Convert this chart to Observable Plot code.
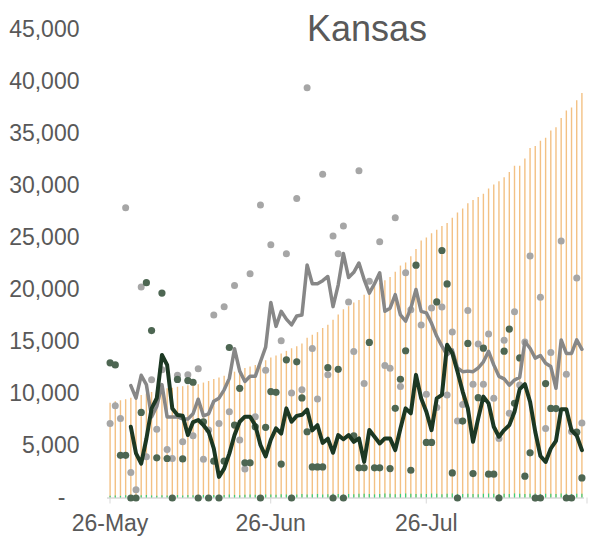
<!DOCTYPE html>
<html>
<head>
<meta charset="utf-8">
<script src="https://cdn.jsdelivr.net/npm/d3@7"></script>
<script src="https://cdn.jsdelivr.net/npm/@observablehq/plot@0.6"></script>
<style>
  html, body { margin: 0; padding: 0; background: #fff; }
  #chart { width: 592px; height: 536px; }
</style>
</head>
<body>
<div id="chart"></div>
<script>
const TITLE = "Kansas";
const START = [2020, 4, 26]; // 26-May-2020, one entry per day below
const X_TICKS = ["2020-05-26", "2020-06-26", "2020-07-26", "2020-08-26"];
const Y_TICKS = [0, 5000, 10000, 15000, 20000, 25000, 30000, 35000, 40000, 45000];

// cumulative (orange bars)
const CUMULATIVE = [9100, 9250, 9350, 9450, 9600, 9700, 9850, 10000, 10150, 10300,
  10400, 10500, 10550, 10650, 10700, 10800, 10850, 10900, 11050, 11200,
  11400, 11550, 11700, 11900, 12100, 12300, 12450, 12600, 12750, 13000,
  13200, 13450, 13650, 13850, 14100, 14350, 14550, 14800, 15350, 15650,
  15900, 16300, 16600, 17100, 17600, 18100, 18400, 18750, 19000, 19500,
  20050, 20400, 20650, 20900, 21200, 21700, 22300, 22600, 23200, 23900,
  24700, 25000, 25400, 25750, 26100, 26400, 26900, 27400, 27800, 28300,
  28600, 28900, 29200, 29700, 30100, 30400, 30800, 31300, 31900, 31900,
  32600, 33600, 33800, 34300, 34600, 35300, 35600, 36500, 37200, 37500,
  38200, 38900];

// small daily values (green ticks at the base)
const DAILY_NEW = [180, 200, 160, 220, 190, 170, 210, 230, 200, 180,
  210, 190, 220, 240, 200, 230, 210, 190, 250, 220,
  240, 260, 230, 280, 250, 220, 260, 300, 270, 240,
  280, 300, 260, 320, 290, 270, 300, 330, 280, 310,
  340, 300, 320, 360, 330, 290, 340, 310, 350, 370,
  330, 300, 340, 380, 360, 320, 350, 390, 360, 330,
  370, 340, 380, 350, 320, 360, 390, 350, 330, 370,
  340, 310, 350, 380, 360, 330, 370, 340, 390, 350,
  330, 360, 380, 340, 370, 350, 330, 390, 360, 340,
  370, 350];

// grey dots
const GREY_DAILY = [7170, 8880, 7650, 27900, 2440, 800, 20300, 3960, 11360, 6600,
  12320, 4660, 3800, 11800, 5400, 11840, 5980, 12420, 3730, 6530,
  17600, 7170, 18400, 8300, 20430, 5570, 2800, 21570, 7820, 28170,
  12280, 24350, null, 15120, 23480, 10100, 28810, 10400, 39440, 14380,
  9520, 31140, 11850, 25190, 23480, 26150, 18850, 14090, 31460, 11000,
  20840, null, 24640, 12740, 12480, 26950, 10710, 21650, 18110, null,
  16630, 9970, 18270, 8690, 18370, 9910, 15950, 7400, 9000, 18030,
  10930, 14800, 10930, 15760, 9580, 5720, 15170, 8140, 17910, 10870,
  15000, 23260, 0, 19300, 6690, 13980, null, 24700, 11900, 6400,
  21160, 7200];

// dark green dots
const GREEN_DAILY = [13000, 12800, 4100, 4100, 0, 0, 8230, 20700, 16100, 3860,
  19700, 3800, 0, 11400, 3760, 11290, 11130, 0, 7330, 0,
  3540, 0, 3540, 14470, 7010, 10550, 3380, 3380, 6850, 0,
  6800, 10230, 10160, 3260, 13290, 0, 13090, 9620, 6370, 2990,
  2990, 2990, 12530, 0, 12370, 0, null, 5980, 2900, 2900,
  14960, 2900, 2900, null, 2830, 8620, 11420, 14160, 2670, 22390,
  null, 5340, 5340, 18850, 23800, 20580, 2410, 0, 7400, 14860,
  2350, 9650, 14410, 2290, 2290, 0, 14120, 16240, 9100, 13470,
  2100, 4340, 0, 0, 11000, 8610, 8600, null, 0, 0,
  6330, 1930];

// grey line
const GREY_AVG = [null, null, null, null, 10800, 9600, 11800, 10900, 7800, 8800,
  10900, 7800, 7800, 7800, 7600, 7600, 8100, 9500, 7900, 8100,
  9300, 9600, 10400, 11500, 14350, 12200, 11200, 11700, 11700, 13100,
  14500, 18800, 16500, 17950, 17200, 16650, 17500, 17600, 22400, 20600,
  20600, 20900, 21300, 18400, 20500, 23500, 21200, 21700, 22600, 21000,
  19700, 20600, 21650, 17950, 18250, 19550, 17600, 17000, 18250, 20050,
  17950, 17800, 16800, 15550, 14600, 13750, 14250, 12500, 12150, 12200,
  12150, 12500, 13100, 14100, 12800, 11700, 11450, 10850, 11350, 11600,
  15050, 14400, 13450, 13700, 12960, 12640, 10550, 15200, 13900, 13900,
  15200, 14300];

// dark green line
const GREEN_AVG = [null, null, null, null, 6850, 4300, 3300, 5700, 8600, 9600,
  13750, 12800, 8600, 7980, 7900, 6050, 7300, 7500, 7000, 6370,
  4760, 2030, 2830, 4270, 6050, 7330, 7820, 7820, 7000, 5100,
  4000, 5600, 6690, 6200, 8620, 7330, 7900, 8000, 8500, 6500,
  7000, 5300, 5700, 4350, 6050, 5650, 6050, 5400, 5730, 3470,
  6530, 5890, 5240, 5730, 5730, 4600, 6690, 8620, 8140, 11840,
  9580, 8300, 6530, 9580, 9910, 14740, 13930, 12160, 10230, 8620,
  5400, 7650, 9750, 9100, 6850, 5890, 6530, 7010, 8300, 10470,
  10950, 9260, 6370, 4040, 3470, 4760, 5500, 8540, 8540, 6500,
  6000, 4600];

const rows = CUMULATIVE.map((c, i) => ({
  date: new Date(Date.UTC(START[0], START[1], START[2] + i, 12)),
  cum: c, neu: DAILY_NEW[i], g: GREY_DAILY[i], d: GREEN_DAILY[i],
  g7: GREY_AVG[i], d7: GREEN_AVG[i]
}));
const xTicks = X_TICKS.map(s => new Date(s + "T00:00:00Z"));
const lastTick = xTicks[xTicks.length - 1];
const fmtDate = d3.utcFormat("%-d-%b");
const font = "'Liberation Sans', Arial, Helvetica, sans-serif";

const chart = Plot.plot({
  width: 592,
  height: 536,
  marginLeft: 107,
  marginRight: 8,
  marginTop: 29.5,
  marginBottom: 38.5,
  style: { fontFamily: font, color: "#595959", background: "#ffffff", overflow: "visible" },
  x: { type: "utc", domain: [xTicks[0], lastTick], axis: null },
  y: { domain: [Y_TICKS[0], Y_TICKS[Y_TICKS.length - 1]], axis: null },
  marks: [
    Plot.ruleX(rows, { x: "date", y1: 0, y2: "cum", stroke: "#f3c184", strokeWidth: 1.4 }),
    Plot.ruleY([0], { stroke: "#d9d9d9", strokeWidth: 1.5 }),
    Plot.ruleX(rows, { x: "date", y1: 0, y2: "neu", stroke: "#3ccf78", strokeWidth: 1.2 }),
    Plot.dot(rows.filter(r => r.g != null), { x: "date", y: "g", r: 3.5, fill: "#a6a6a6" }),
    Plot.dot(rows.filter(r => r.d != null), { x: "date", y: "d", r: 3.6, fill: "#4d6652" }),
    Plot.line(rows.filter(r => r.g7 != null), { x: "date", y: "g7", stroke: "#878787", strokeWidth: 3.5 }),
    Plot.line(rows.filter(r => r.d7 != null), { x: "date", y: "d7", stroke: "#1c3823", strokeWidth: 4 }),
    Plot.axisX({ ticks: xTicks, tickFormat: d => (+d === +lastTick ? "" : fmtDate(d)),
      tickSize: 6, tickPadding: 11, stroke: "#d9d9d9", fontSize: 23, dx: 2.5, label: null }),
    Plot.axisY({ ticks: Y_TICKS.filter(v => v !== 0), tickFormat: d3.format(","),
      tickSize: 0, tickPadding: 28, fontSize: 23, label: null }),
    Plot.axisY({ ticks: [0], tickFormat: () => "-", tickSize: 0, tickPadding: 42, fontSize: 23, label: null }),
    Plot.text([TITLE], { frameAnchor: "top", dx: 21, dy: 11, lineAnchor: "bottom", fontSize: 36, fill: "#595959" })
  ]
});
document.getElementById("chart").appendChild(chart);
</script>
</body>
</html>
